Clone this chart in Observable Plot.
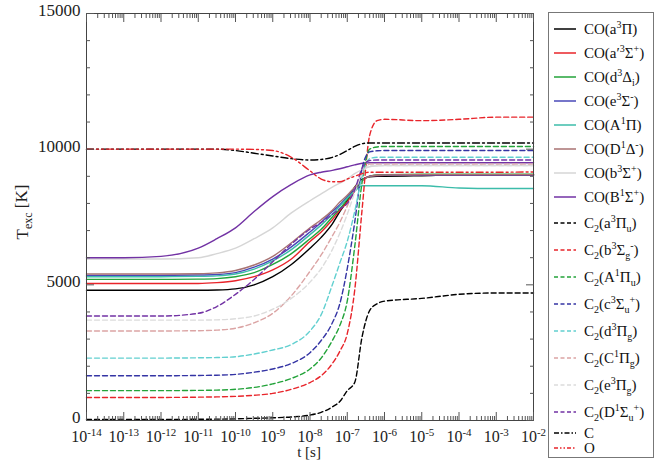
<!DOCTYPE html>
<html><head><meta charset="utf-8">
<script src="https://cdn.jsdelivr.net/npm/d3@7"></script>
<script src="https://cdn.jsdelivr.net/npm/@observablehq/plot@0.6"></script>
<style>
body{margin:0;background:#fff;font-family:"Liberation Serif","Times New Roman",Times,"DejaVu Serif",serif;}
#wrap{position:relative;width:656px;height:461px;overflow:hidden;}
#chart{position:absolute;left:0;top:0;}
#legend{position:absolute;left:548px;top:12px;width:106px;height:446px;border:1px solid #777;box-sizing:border-box;background:#fff;}
.row{position:absolute;left:4px;height:16px;display:flex;align-items:center;font-size:15px;white-space:nowrap;color:#111;}
.row svg{margin-right:7px;flex:none;}
sup,sub{font-size:10px;line-height:0;}
</style></head><body><div id="wrap"><div id="chart"></div><div id="legend"></div></div>
<script>
// time grid, log10(t [s])
const logTime = [-14,-13,-12,-11,-10.5,-10,-9.5,-9,-8.5,-8,-7.7,-7.4,-7.2,-7,-6.8,-6.6,-6.4,-6.2,-6,-5,-4,-3,-2];

// excitation temperatures [K]
const CO_a3Pi   = [4800,4800,4800,4800,4810,4850,5000,5300,5750,6350,6750,7250,7700,8100,8600,8900,8980,9000,9000,9020,9050,9050,9050];
const CO_ap3Sp  = [5050,5050,5050,5050,5080,5150,5300,5550,5950,6600,6950,7400,7750,8050,8450,8850,9000,9030,9040,9050,9050,9050,9050];
const CO_d3Di   = [5200,5200,5200,5210,5230,5300,5450,5750,6150,6700,7050,7500,7800,8150,8500,8850,9000,9050,9060,9080,9080,9080,9080];
const CO_e3Sm   = [5350,5350,5350,5360,5380,5450,5650,5950,6400,6950,7300,7700,7950,8250,8550,8850,9000,9030,9040,9050,9050,9050,9050];
const CO_A1Pi   = [5300,5300,5300,5310,5330,5400,5580,5880,6300,6850,7200,7600,7900,8200,8450,8650,8650,8650,8650,8650,8570,8550,8550];
const CO_D1Dm   = [5400,5400,5400,5410,5440,5530,5730,6050,6550,7100,7400,7750,8050,8300,8600,8850,9000,9040,9050,9060,9060,9060,9060];
const CO_b3Sp   = [5950,5950,5950,6000,6150,6350,6700,7100,7650,8100,8350,8600,8750,8900,9100,9250,9350,9380,9400,9400,9400,9400,9400];
const CO_B1Sp   = [6000,6000,6050,6350,6700,7100,7700,8250,8700,9050,9150,9220,9280,9350,9420,9480,9500,9500,9500,9500,9500,9500,9500];
const C2_a3Piu  = [40,40,40,45,50,60,80,100,130,200,300,500,700,1100,1400,3100,4050,4300,4400,4500,4650,4700,4700];
const C2_b3Sgm  = [850,850,850,860,870,890,930,1000,1150,1400,1650,2100,2550,3200,4800,7800,10500,11050,11100,11050,11100,11180,11180];
const C2_A1Piu  = [1100,1100,1100,1110,1120,1150,1220,1350,1550,1900,2300,2950,3500,4400,6400,8800,10000,10080,10100,10100,10100,10100,10100];
const C2_c3Sup  = [1650,1650,1650,1660,1670,1700,1780,1900,2100,2500,2950,3600,4300,5600,7300,9300,9900,9940,9950,9950,9950,9950,9950];
const C2_d3Pig  = [2300,2300,2300,2310,2320,2350,2450,2600,2800,3300,3900,5000,5800,6600,7700,9000,9650,9700,9700,9700,9700,9700,9700];
const C2_C1Pig  = [3300,3300,3300,3310,3330,3400,3600,3950,4600,5500,6100,6800,7300,7900,8500,9100,9450,9450,9450,9450,9450,9450,9450];
const C2_e3Pig  = [3700,3700,3700,3700,3710,3750,3850,4100,4500,5100,5600,6300,6900,7600,8400,9100,9400,9400,9400,9400,9400,9400,9400];
const C2_D1Sup  = [3850,3850,3850,3950,4200,4650,5200,5850,6500,7050,7300,7600,7800,8000,8500,9300,9580,9600,9600,9600,9600,9600,9600];
const C_atom    = [10000,10000,10000,10000,10000,9950,9850,9750,9650,9600,9620,9700,9800,9950,10100,10200,10230,10230,10230,10230,10230,10230,10230];
const O_atom    = [10000,10000,10000,10000,10000,10000,9990,9950,9700,9200,8900,8800,8800,8900,9000,9100,9150,9150,9150,9150,9150,9150,9160];

const seriesValues = [CO_a3Pi, CO_ap3Sp, CO_d3Di, CO_e3Sm, CO_A1Pi, CO_D1Dm, CO_b3Sp, CO_B1Sp,
  C2_a3Piu, C2_b3Sgm, C2_A1Piu, C2_c3Sup, C2_d3Pig, C2_C1Pig, C2_e3Pig, C2_D1Sup, C_atom, O_atom];
const seriesLabels = [
  "CO(a<sup>3</sup>Π)", "CO(a′<sup>3</sup>Σ<sup>+</sup>)", "CO(d<sup>3</sup>Δ<sub>i</sub>)", "CO(e<sup>3</sup>Σ<sup>-</sup>)",
  "CO(A<sup>1</sup>Π)", "CO(D<sup>1</sup>Δ<sup>-</sup>)", "CO(b<sup>3</sup>Σ<sup>+</sup>)", "CO(B<sup>1</sup>Σ<sup>+</sup>)",
  "C<sub>2</sub>(a<sup>3</sup>Π<sub>u</sub>)", "C<sub>2</sub>(b<sup>3</sup>Σ<sub>g</sub><sup>-</sup>)",
  "C<sub>2</sub>(A<sup>1</sup>Π<sub>u</sub>)", "C<sub>2</sub>(c<sup>3</sup>Σ<sub>u</sub><sup>+</sup>)",
  "C<sub>2</sub>(d<sup>3</sup>Π<sub>g</sub>)", "C<sub>2</sub>(C<sup>1</sup>Π<sub>g</sub>)",
  "C<sub>2</sub>(e<sup>3</sup>Π<sub>g</sub>)", "C<sub>2</sub>(D<sup>1</sup>Σ<sub>u</sub><sup>+</sup>)", "C", "O"];
const yTicksMajor = [0, 5000, 10000, 15000];
const yTicksMinor = [1000,2000,3000,4000,6000,7000,8000,9000,11000,12000,13000,14000];
const xTickExponents = [-14,-13,-12,-11,-10,-9,-8,-7,-6,-5,-4,-3,-2];

// styles
const colors = ["#000000","#e8242a","#23a33a","#4848b8","#3cbcaa","#a87272","#d6d6d6","#7232a4",
                "#000000","#e8242a","#23a33a","#3434a4","#62d0d0","#dba4a4","#dcdcdc","#7232a4","#000000","#e8242a"];
const SOLID = null, DASH = "5,3", DASHDOT = "7,3,2,3", DASHDOTDOT = "7,3,2,3,2,3";
const dashes = [SOLID,SOLID,SOLID,SOLID,SOLID,SOLID,SOLID,SOLID,DASH,DASH,DASH,DASH,DASH,DASH,DASH,DASH,DASHDOT,DASHDOTDOT];
const legendY = [28,52,76,100,124,148,172,196,222,249,276,303,330,357,384,411,432,447];
const FONT = "Liberation Serif, Times New Roman, Times, DejaVu Serif, serif";

const xMajor = xTickExponents.map(e => Math.pow(10, e));
const xMinor = [];
for (const e of xTickExponents.slice(0, -1)) for (let m = 2; m <= 9; m++) xMinor.push(m * Math.pow(10, e));

const lineMarks = seriesValues.map((vals, i) => {
  const data = logTime.map((lt, j) => ({t: Math.pow(10, lt), T: vals[j]}));
  return Plot.line(data, {x: "t", y: "T", stroke: colors[i], strokeWidth: 1.4,
    strokeDasharray: dashes[i] ?? undefined, curve: "monotone-x"});
});

const tickStroke = "#555";
const plot = Plot.plot({
  width: 560, height: 461,
  marginLeft: 86, marginRight: 27, marginTop: 13, marginBottom: 41,
  style: {fontFamily: FONT, background: "transparent"},
  x: {type: "log", domain: [1e-14, 1e-2], axis: null},
  y: {domain: [0, 15000], axis: null},
  marks: [
    ...lineMarks,
    Plot.frame({stroke: "#444"}),
    Plot.axisY({anchor: "left", ticks: yTicksMajor, tickSize: -8, fill: "none", label: null, stroke: tickStroke}),
    Plot.axisY({anchor: "left", ticks: yTicksMinor, tickSize: -4, fill: "none", label: null, stroke: tickStroke}),
    Plot.axisY({anchor: "right", ticks: yTicksMajor, tickSize: -8, fill: "none", label: null, stroke: tickStroke}),
    Plot.axisY({anchor: "right", ticks: yTicksMinor, tickSize: -4, fill: "none", label: null, stroke: tickStroke}),
    Plot.axisY({anchor: "left", ticks: yTicksMajor, tickSize: 0, tickPadding: 6, tickFormat: d => String(d), label: null,
      fill: "#222", fontFamily: FONT, fontSize: 17, dy: -3}),
    Plot.axisX({anchor: "bottom", ticks: xMajor, tickSize: -8, fill: "none", label: null, stroke: tickStroke}),
    Plot.axisX({anchor: "bottom", ticks: xMinor, tickSize: -4, fill: "none", label: null, stroke: tickStroke}),
    Plot.axisX({anchor: "top", ticks: xMajor, tickSize: -8, fill: "none", label: null, stroke: tickStroke}),
    Plot.axisX({anchor: "top", ticks: xMinor, tickSize: -4, fill: "none", label: null, stroke: tickStroke}),
    Plot.axisX({anchor: "bottom", ticks: xMajor, tickSize: 0, tickPadding: 10, label: null, fill: "#222",
      fontFamily: FONT, fontSize: 16, tickFormat: d => "10|" + Math.round(Math.log10(d))})
  ]
});
document.getElementById("chart").appendChild(plot);

const svg = d3.select(plot);
svg.selectAll("text").each(function() {
  const s = this.textContent;
  if (s.startsWith("10|")) {
    const e = s.split("|")[1];
    const t = d3.select(this);
    t.text(null);
    t.append("tspan").text("10");
    t.append("tspan").attr("dy", "-0.5em").attr("font-size", "11").text(e);
  }
});
// axis titles
svg.append("text").attr("x", 309).attr("y", 457).attr("text-anchor", "middle")
  .attr("font-family", FONT).attr("font-size", 15).attr("fill", "#222").text("t [s]");
const yl = svg.append("text").attr("transform", "translate(28,212) rotate(-90)").attr("text-anchor", "middle")
  .attr("font-family", FONT).attr("font-size", 17).attr("fill", "#222");
yl.append("tspan").text("T");
yl.append("tspan").attr("font-size", 12).attr("dy", "0.3em").text("exc");
yl.append("tspan").attr("dy", "-0.3em").text(" [K]");

// legend
const legend = d3.select("#legend");
seriesLabels.forEach((lab, i) => {
  const row = legend.append("div").attr("class", "row").style("top", (legendY[i] - 12 - 8) + "px");
  const sw = row.append("svg").attr("width", 24).attr("height", 10);
  sw.append("line").attr("x1", 1).attr("x2", 23).attr("y1", 5).attr("y2", 5)
    .attr("stroke", colors[i]).attr("stroke-width", 1.5)
    .attr("stroke-dasharray", dashes[i] ? (i >= 16 ? (i === 16 ? "5,2,1.5,2" : "4,2,1.5,2,1.5,2") : "4,2.5") : null);
  row.append("span").html(lab);
});
</script>
</body></html>
